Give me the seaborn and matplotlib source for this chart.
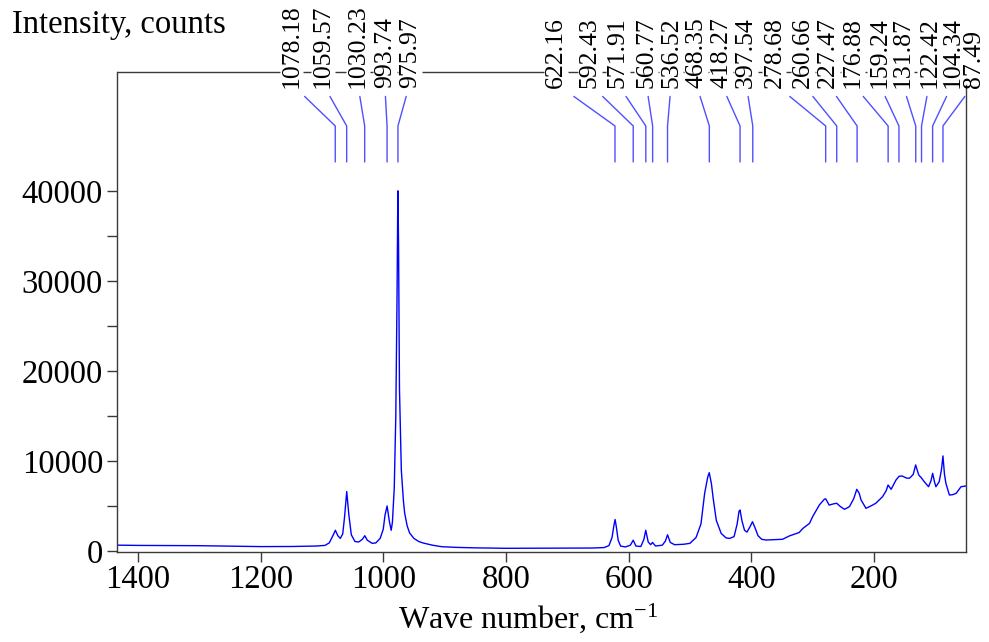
import seaborn as sns
import pandas as pd
import matplotlib.pyplot as plt
import matplotlib.transforms as mtransforms

# spectrum: wave number (cm-1) and intensity (counts)
wavenumber = [1434, 1400, 1350, 1300, 1250, 1200, 1150, 1110, 1095, 1088,
              1082, 1078, 1074, 1070, 1066, 1063, 1059.5, 1056, 1052, 1046,
              1040, 1034, 1030, 1026, 1018, 1012, 1005, 1000, 997, 993.7,
              990, 987, 985, 982, 979.5, 977.5, 976.5, 976, 975, 973.5,
              970.5, 967, 965, 961, 957, 950, 942, 935, 920, 905,
              880, 850, 800, 750, 700, 660, 640, 632, 627, 624,
              622, 620, 617, 613, 605, 597, 592.5, 588, 580, 575,
              572, 568, 564, 561, 556, 545, 540, 536.5, 532, 525,
              510, 500, 490, 482, 476, 471, 468.5, 465, 462, 457,
              449, 441, 435, 428, 423, 420, 418.3, 415, 411, 407,
              402, 398, 394, 389, 383, 376, 365, 349, 338, 322,
              316, 305, 300, 289, 281, 278.7, 273, 265, 260.7, 255,
              248, 240, 233, 228, 224, 221, 213, 205, 197, 186,
              180, 177, 172, 164, 159, 154, 147, 142, 136, 132,
              127, 122.4, 118, 111, 107, 104.3, 101, 99, 93.6, 90,
              87.5, 85, 82.7, 77, 72, 66, 58, 50]
intensity = [650, 620, 600, 590, 540, 490, 500, 550, 620, 900,
             1700, 2300, 1700, 1400, 1900, 3800, 6600, 4000, 1800, 1050,
             1000, 1300, 1700, 1200, 850, 900, 1400, 2400, 4000, 5000,
             3300, 2300, 3200, 7000, 15000, 28000, 37000, 40000, 34000, 18000,
             9000, 5500, 4200, 2800, 2000, 1400, 1050, 890, 650, 480,
             400, 350, 300, 300, 320, 330, 380, 600, 1500, 2800,
             3500, 2700, 1200, 550, 450, 650, 1200, 550, 500, 1300,
             2300, 1000, 700, 950, 550, 650, 1100, 1800, 950, 700,
             750, 850, 1500, 3000, 6400, 8200, 8700, 7500, 5800, 3400,
             1950, 1450, 1400, 1600, 3000, 4400, 4550, 3300, 2300, 2100,
             2700, 3250, 2600, 1700, 1300, 1220, 1250, 1300, 1670, 2050,
             2500, 3070, 3810, 5110, 5740, 5800, 5100, 5250, 5300, 4950,
             4630, 4920, 5800, 6850, 6400, 5670, 4740, 5000, 5300, 6030,
             6700, 7330, 6850, 7890, 8300, 8330, 8100, 8080, 8500, 9560,
             8440, 8100, 7700, 7140, 7800, 8630, 7600, 7140, 7700, 9000,
             10560, 8500, 7520, 6220, 6250, 6400, 7140, 7220]

# marked peaks
peaks = [1078.18, 1059.57, 1030.23, 993.74, 975.97, 622.16, 592.43, 571.91,
         560.77, 536.52, 468.35, 418.27, 397.54, 278.68, 260.66, 227.47,
         176.88, 159.24, 131.87, 122.42, 104.34, 87.49]
peak_labels = ['%.2f' % p for p in peaks]
# where the rotated labels sit along the top (data units)
label_pos = [1149.5, 1098.5, 1041.5, 997.5, 956.8, 717.9, 663.6, 618.0,
             571.3, 530.6, 489.9, 449.1, 408.4, 362.3, 316.2, 275.5,
             234.8, 191.3, 153.4, 109.9, 71.9, 36.6]

xmax, xmin = 1434, 50
frame = '#3a3a3a'
blue = '#0000ff'
leader = '#5050ff'

sns.set_theme(style="ticks")
plt.rcParams['font.family'] = ['Liberation Serif', 'DejaVu Serif']
plt.rcParams['mathtext.default'] = 'regular'
plt.rcParams['text.color'] = 'black'

fig = plt.figure(figsize=(9.89, 6.42), dpi=100)
ax = fig.add_axes([0.1183, 0.1402, 0.8584, 0.7477])

spec = pd.DataFrame({'wavenumber': wavenumber, 'intensity': intensity})
sns.lineplot(data=spec, x='wavenumber', y='intensity', color=blue,
             lw=1, ax=ax)

trans = mtransforms.blended_transform_factory(ax.transData, ax.transAxes)

# peak labels with their leader lines
for p, lab, lx in zip(peaks, peak_labels, label_pos):
    ax.text(lx, 0.966, lab, transform=trans, rotation=90, ha='center',
            va='bottom', fontsize=18.5, color='black', clip_on=False)
    top = lx + 0.3 * (p - lx)
    ax.plot([top, p, p], [0.949, 0.8875, 0.8125], transform=trans,
            color=leader, lw=1, clip_on=False)

# top border broken by the labels
hw = 19.5
edges = [xmax]
for lx in sorted(label_pos, reverse=True):
    edges += [lx + hw, lx - hw]
edges.append(xmin)
for a, b in zip(edges[0::2], edges[1::2]):
    if a > b:
        ax.plot([a, max(b, xmin)], [1, 1], transform=trans, color=frame,
                lw=1, clip_on=False, solid_capstyle='butt')

ax.set_xlim(xmax, xmin)
ax.set_ylim(-110, 53200)
ax.set_xticks([1400, 1200, 1000, 800, 600, 400, 200])
ax.set_yticks([0, 10000, 20000, 30000, 40000])
ax.set_yticks([5000, 15000, 25000, 35000], minor=True)
ax.set_xlabel('')
ax.set_ylabel('')

ax.spines['top'].set_visible(False)
for s in ['left', 'right', 'bottom']:
    ax.spines[s].set_color(frame)
    ax.spines[s].set_linewidth(1)
ax.spines['right'].set_bounds(-110, 51780)

ax.tick_params(axis='both', which='both', direction='out', length=7,
               width=1, color=frame, labelsize=23.5, labelcolor='black')
ax.tick_params(axis='x', pad=2)
ax.tick_params(axis='y', pad=3)
ax.tick_params(top=False, right=False)

fig.text(12 / 989, 1 - 33 / 642, 'Intensity, counts', fontsize=23.5,
         ha='left', va='baseline', color='black')
fig.text(398 / 989, 1 - 628 / 642, 'Wave number, cm$^{-1}$', fontsize=23,
         ha='left', va='baseline', color='black')

fig.savefig('out.png', dpi=100, facecolor='white')
